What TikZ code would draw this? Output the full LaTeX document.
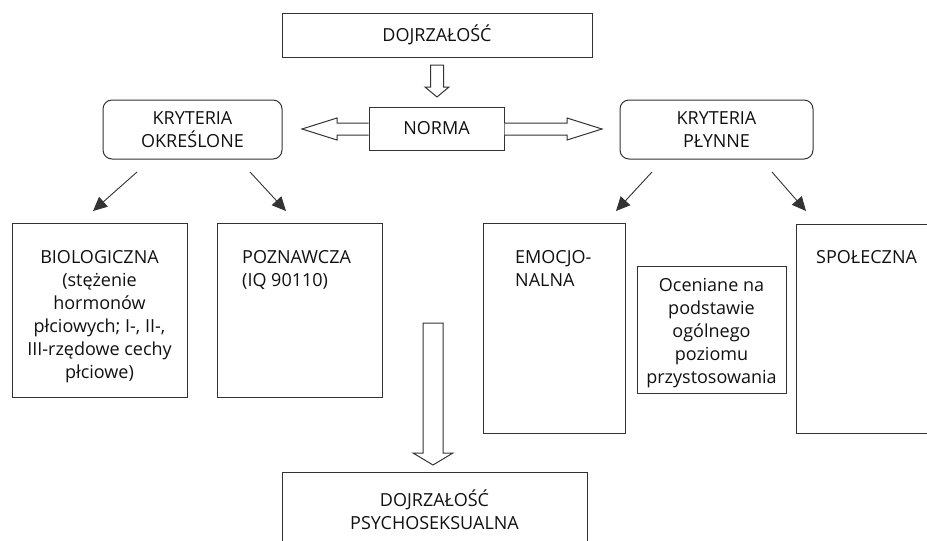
\documentclass[tikz,border=0pt]{standalone}
\usepackage{fontspec}
\setmainfont{Open Sans}
\usetikzlibrary{arrows.meta}
\definecolor{lc}{HTML}{333333}
\definecolor{tc}{HTML}{111111}
\begin{document}
\begin{tikzpicture}[x=1pt,y=-1pt,
  box/.style={draw=lc, line width=1pt, inner sep=0pt},
  rbox/.style={box, rounded corners=9pt},
  txt/.style={font=\fontsize{18}{23}\selectfont, inner sep=0pt, text=tc},
  conn/.style={draw=lc, line width=0.9pt, -{Triangle[length=14pt,width=13pt]}},
  block/.style={draw=lc, line width=1pt, fill=white, line join=miter}]
\path[use as bounding box, clip] (0,0) rectangle (927,541);

% boxes
\node[box, minimum width=310pt, minimum height=44pt] (doj) at (437,35) {};
\node[box, minimum width=135pt, minimum height=43pt] (norma) at (436.5,128.5) {};
\node[rbox, minimum width=179pt, minimum height=59pt] (ko) at (192.5,129.5) {};
\node[rbox, minimum width=193pt, minimum height=59pt] (kp) at (716.5,129.5) {};
\node[box, minimum width=175pt, minimum height=174pt] (bio) at (99.5,310) {};
\node[box, minimum width=165pt, minimum height=174pt] (poz) at (299.5,310) {};
\node[box, minimum width=142pt, minimum height=210pt] (emo) at (554,328) {};
\node[box, minimum width=149pt, minimum height=127pt] (oce) at (711.5,329.5) {};
\node[box, minimum width=170pt, minimum height=209pt] (spo) at (881,328.5) {};
\node[box, minimum width=305pt, minimum height=100pt] (psy) at (434.5,522) {};

% texts
\node[txt] (tdoj) at (doj.center) {DOJRZAŁOŚĆ};
\node[txt] (tnorma) at (norma.center) {NORMA};
\node[txt, align=center] (tko) at (ko.center) {KRYTERIA\\OKREŚLONE};
\node[txt, align=center] (tkp) at (kp.center) {KRYTERIA\\PŁYNNE};
\node[txt, align=center, anchor=north] (tbio) at (99.5,250.5) {BIOLOGICZNA\\(stężenie\\hormonów\\płciowych; I-, II-,\\III-rzędowe cechy\\płciowe)};
\node[txt, align=left, anchor=north west] (tpoz) at (242,250.5) {POZNAWCZA\\(IQ 90110)};
\node[txt, align=left, anchor=north west] (temo) at (515,250.5) {EMOCJO-\\NALNA};
\node[txt, align=center, anchor=north] (toce) at (711.5,278.5) {Oceniane na\\podstawie\\ogólnego\\poziomu\\przystosowania};
\node[txt, align=left, anchor=north west] (tspo) at (816,250.5) {SPOŁECZNA};
\node[txt, align=center, anchor=north] (tpsy) at (434.5,490) {DOJRZAŁOŚĆ\\PSYCHOSEKSUALNA};

% thin arrows
\coordinate (a1s) at (137,172); \coordinate (a1e) at (93,211);
\coordinate (a2s) at (250,172); \coordinate (a2e) at (286,211);
\coordinate (a3s) at (652,172); \coordinate (a3e) at (616,211);
\coordinate (a4s) at (772,172); \coordinate (a4e) at (806,211);
\draw[conn] (a1s) -- (a1e);
\draw[conn] (a2s) -- (a2e);
\draw[conn] (a3s) -- (a3e);
\draw[conn] (a4s) -- (a4e);

% hollow block arrow: DOJRZAŁOŚĆ -> NORMA
\coordinate (d1) at (437,65);
\draw[block] ([xshift=-6.5pt]d1) -- ([xshift=-6.5pt,yshift=-22pt]d1) -- ([xshift=-12pt,yshift=-22pt]d1)
  -- ([yshift=-32pt]d1) -- ([xshift=12pt,yshift=-22pt]d1) -- ([xshift=6.5pt,yshift=-22pt]d1)
  -- ([xshift=6.5pt]d1) -- cycle;

% hollow block arrows from NORMA sideways
\draw[block] (norma.west |- 0,123) -- (337,123) -- (337,118) -- (302,129) -- (337,140) -- (337,135) -- (norma.west |- 0,135);
\draw[block] (norma.east |- 0,123) -- (567,123) -- (567,118) -- (602,129) -- (567,140) -- (567,135) -- (norma.east |- 0,135);

% big hollow arrow down to PSYCHOSEKSUALNA
\draw[block] (423,323) -- (423,453) -- (413,453) -- (433,465) -- (453,453) -- (443,453) -- (443,323) -- cycle;
\end{tikzpicture}
\end{document}
